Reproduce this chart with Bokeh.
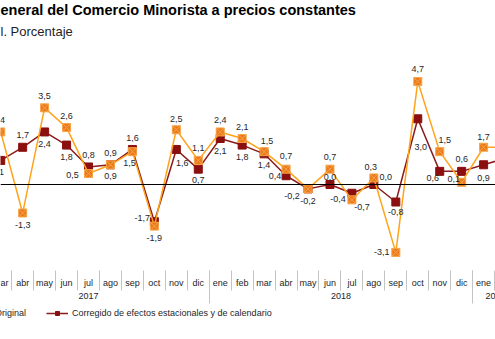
import math
from bokeh.plotting import figure
from bokeh.models import (ColumnDataSource, LinearAxis, FixedTicker, Span, Legend,
                          LegendItem, Title, Range1d)
from bokeh.embed import file_html
from bokeh.resources import INLINE

nan = float("nan")

# ---- data -------------------------------------------------------------
months = ["feb", "mar", "abr", "may", "jun", "jul", "ago", "sep", "oct", "nov", "dic",
          "ene", "feb", "mar", "abr", "may", "jun", "jul", "ago", "sep", "oct", "nov", "dic",
          "ene", "feb"]
years = ["2017"] * 11 + ["2018"] * 12 + ["2019"] * 2

original = [nan, 2.4, -1.3, 3.5, 2.6, 0.5, 0.9, 1.5, -1.9, 2.5, 1.1,
            2.4, 2.1, 1.5, 0.7, -0.2, 0.7, -0.7, 0.3, -3.1, 4.7, 1.5, 0.1,
            1.7, 1.7]
corregido = [nan, 1.1, 1.7, 2.4, 1.8, 0.8, 0.9, 1.6, -1.7, 1.6, 0.7,
             2.1, 1.8, 1.4, 0.4, -0.2, 0.0, -0.4, 0.0, -0.8, 3.0, 0.6, 0.6,
             0.9, 1.2]

# texts as they appear in the (cropped) picture
title_text = "eneral del Comercio Minorista a precios constantes"
subtitle_text = "l. Porcentaje"
series_names = ["Original", "Corregido de efectos estacionales y de calendario"]
edge_month_label = {1: "ar"}      # "mar" is cut by the left edge
edge_year_label = {"2019": "20"}  # "2019" is cut by the right edge

# label placement (style): pixel offsets of each value label from its marker
orig_off = [(0, 0), (-2, -12), (0, 12), (0, -12), (0, -12), (-16, 1), (0, -12), (-3, 11),
            (0, 12), (0, -11), (0, -12), (0, -12), (0, -12), (3, -11), (0, -13), (0, 12),
            (0, -12), (10, 7), (-3, -11), (-14, 0), (0, -13), (5, -12), (-8, -3), (0, -10), (0, 0)]
corr_off = [(0, 0), (-3, 12), (0, -12), (0, 12), (0, 12), (0, -12), (0, 11), (0, -11),
            (-12, -4), (6, 14), (0, 11), (0, 12), (0, 12), (0, 11), (-11, 0), (-16, 7),
            (0, -8), (-14, 6), (12, -8), (0, 10), (3, 28), (-7, 7), (0, -12), (0, 13), (0, 0)]

FONT = "Liberation Sans"
ORANGE = "#FFA31A"
DARK = "#8B1A1A"
TXT = "#1E1E28"

x = list(range(len(months)))
PX = 21.95          # pixels per month
PY = 21.9           # pixels per unit
x0 = 0.99           # first visible coordinate
AXIS_Y = -86 / PY   # where the category axes sit

p = figure(width=495, height=339, output_backend="svg", toolbar_location=None,
           x_axis_location=None, y_axis_location=None,
           x_range=Range1d(x0, x0 + 495 / PX),
           y_range=Range1d(-155 / PY, 139 / PY),
           min_border_left=0, min_border_right=0, min_border_top=45, min_border_bottom=0,
           outline_line_color=None, background_fill_color="white")
p.grid.visible = False

# titles
p.add_layout(Title(text=subtitle_text, text_font=FONT, text_font_size="13px",
                   text_font_style="normal", text_color=TXT, align="left", offset=0,
                   standoff=13), "above")
p.add_layout(Title(text=title_text, text_font=FONT, text_font_size="14.5px",
                   text_font_style="bold", text_color="black", align="left", offset=0,
                   standoff=-4), "above")

# zero line
p.add_layout(Span(location=0, dimension="width", line_color="black", line_width=1))

src = ColumnDataSource(dict(x=x, o=original, c=corregido))

ld = p.line("x", "c", source=src, line_color=DARK, line_width=1.5)
sd = p.scatter("x", "c", source=src, marker="square", size=8, fill_color="#8B0F0F",
               line_color="#8B0F0F")
lo = p.line("x", "o", source=src, line_color=ORANGE, line_width=1.5)
so = p.scatter("x", "o", source=src, marker="square_x", size=8, fill_color="#EC7A1C",
               line_color="#F6A446")


def fmt(v):
    return ("%.1f" % v).replace(".", ",")


def label_source(vals, offs):
    xs, ys, ts, dx, dy = [], [], [], [], []
    for i, v in enumerate(vals):
        if math.isnan(v) or i == len(vals) - 1:
            continue
        xs.append(i); ys.append(v); ts.append(fmt(v))
        dx.append(offs[i][0]); dy.append(offs[i][1])
    return ColumnDataSource(dict(x=xs, y=ys, t=ts, dx=dx, dy=dy))


for vals, offs in ((corregido, corr_off), (original, orig_off)):
    p.text("x", "y", text="t", x_offset="dx", y_offset="dy", source=label_source(vals, offs),
           text_font={"value": FONT}, text_font_size="9px", text_color=TXT,
           text_align="center", text_baseline="middle")

# month axis
month_labels = {i: edge_month_label.get(i, m) for i, m in zip(x, months)}
month_axis = LinearAxis(
    ticker=FixedTicker(ticks=x, minor_ticks=[i - 0.5 for i in x] + [x[-1] + 0.5]),
    major_label_overrides=month_labels,
    axis_line_color=None, major_tick_line_color=None, major_tick_in=0, major_tick_out=0,
    minor_tick_line_color="#C4C4C4", minor_tick_in=0, minor_tick_out=20,
    major_label_standoff=-13, major_label_text_font=FONT, major_label_text_font_size="9px",
    major_label_text_color=TXT, fixed_location=AXIS_Y)

# year axis
ylist = []
for y in years:
    if y not in ylist:
        ylist.append(y)
centers = {y: sum(i for i in x if years[i] == y) / years.count(y) for y in ylist}
bounds = [i - 0.5 for i in x[1:] if years[i] != years[i - 1]]
year_axis = LinearAxis(
    ticker=FixedTicker(ticks=[centers[y] for y in ylist], minor_ticks=bounds),
    major_label_overrides={centers[y]: edge_year_label.get(y, y) for y in ylist},
    axis_line_color=None, major_tick_line_color=None, major_tick_in=0, major_tick_out=0,
    minor_tick_line_color="#C4C4C4", minor_tick_in=0, minor_tick_out=33,
    major_label_standoff=-11, major_label_text_font=FONT, major_label_text_font_size="9px",
    major_label_text_color=TXT, fixed_location=AXIS_Y)

p.add_layout(month_axis, "below")
p.add_layout(year_axis, "below")

legend = Legend(items=[LegendItem(label=series_names[0], renderers=[lo, so]),
                       LegendItem(label=series_names[1], renderers=[ld, sd])],
                orientation="horizontal", location=(-31, 21),
                border_line_color=None, background_fill_alpha=0, padding=0, margin=0,
                spacing=20, glyph_width=22, glyph_height=10, label_height=10,
                label_standoff=4, label_text_font=FONT, label_text_font_size="9px",
                label_text_color=TXT)
p.add_layout(legend, "center")

open("out.html", "w").write(file_html(p, INLINE))
